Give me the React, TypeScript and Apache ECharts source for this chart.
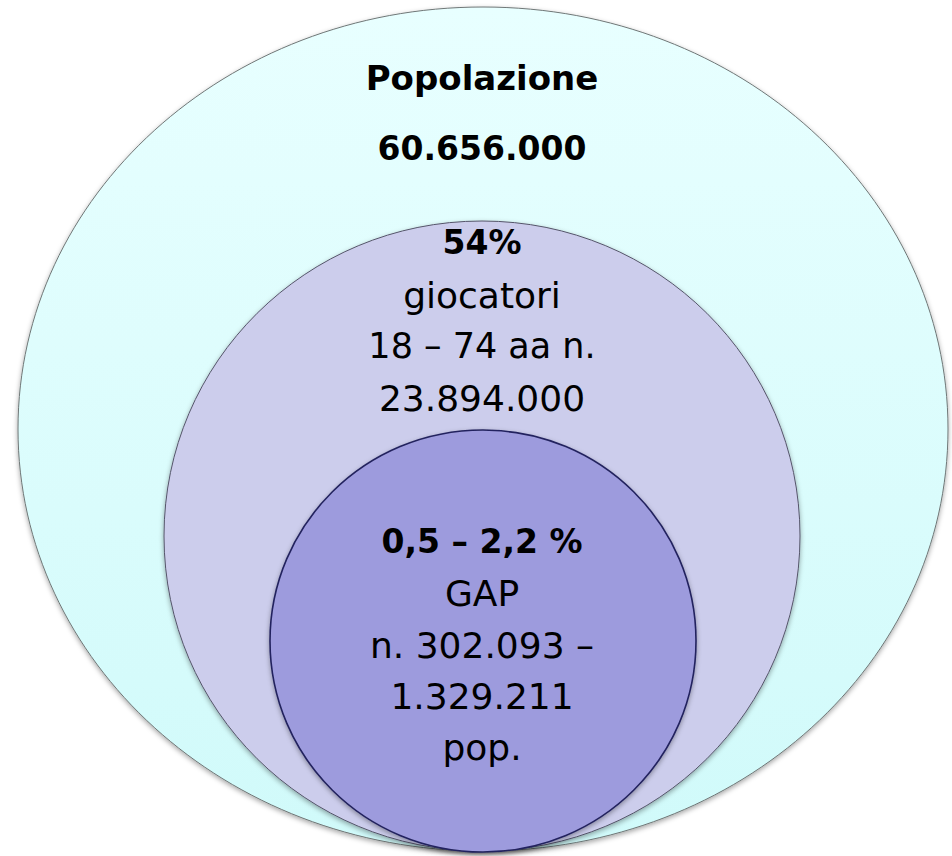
import React, { useEffect, useRef } from "react";
import * as echarts from "echarts";

// ---- data ----
const groupNames = ["Popolazione", "giocatori", "GAP"];
const popolazione = 60656000;
const giocatoriPct = "54%";
const giocatoriEta = "18 – 74 aa n.";
const giocatori = 23894000;
const gapPct = "0,5 – 2,2 %";
const gapMin = 302093;
const gapMax = 1329211;

const fmt = (n: number) => String(n).replace(/\B(?=(\d{3})+(?!\d))/g, ".");

// ---- layout (pixel-like axis units) ----
const W = 952;
const H = 856;
const ellipses = [
  { cx: 483, cy: 429, rx: 465, ry: 422 },
  { cx: 482, cy: 536, rx: 318, ry: 315 },
  { cx: 483, cy: 641, rx: 213, ry: 211 },
];
const fills: any[] = [
  new echarts.graphic.LinearGradient(0, 0, 0, 1, [
    { offset: 0, color: "#e8ffff" },
    { offset: 1, color: "#d0fafa" },
  ]),
  "#cccdec",
  "#9d9bdd",
];
const strokes = ["#6f7777", "#55556a", "#23235e"];
const lineWidths = [1, 1, 1.6];

const textLines: { text: string; bold: boolean; size: number; y: number }[][] = [
  [
    { text: groupNames[0], bold: true, size: 34, y: 78 },
    { text: fmt(popolazione), bold: true, size: 33, y: 148 },
  ],
  [
    { text: giocatoriPct, bold: true, size: 33, y: 242 },
    { text: groupNames[1], bold: false, size: 36, y: 295 },
    { text: giocatoriEta, bold: false, size: 35, y: 346 },
    { text: fmt(giocatori), bold: false, size: 36, y: 398 },
  ],
  [
    { text: gapPct, bold: true, size: 33, y: 541 },
    { text: groupNames[2], bold: false, size: 36, y: 593 },
    { text: "n. " + fmt(gapMin) + " –", bold: false, size: 36, y: 645 },
    { text: fmt(gapMax), bold: false, size: 36, y: 696 },
    { text: "pop.", bold: false, size: 36, y: 747 },
  ],
];
const textX = 482;

export default function App() {
  const ref = useRef<HTMLDivElement>(null);
  useEffect(() => {
    document.body.style.margin = "0";
    const chart = echarts.init(ref.current!, undefined, { renderer: "svg" });
    chart.setOption({
      animation: false,
      grid: { left: 0, right: 0, top: 0, bottom: 0 },
      xAxis: { type: "value", min: 0, max: W, show: false },
      yAxis: { type: "value", min: 0, max: H, inverse: true, show: false },
      series: [
        {
          type: "custom",
          data: groupNames.map((_, i) => [i]),
          renderItem: (params: any, api: any) => {
            const i = api.value(0);
            const e = ellipses[i];
            const c = api.coord([e.cx, e.cy]);
            const edge = api.coord([e.cx + e.rx, e.cy + e.ry]);
            const children: any[] = [
              {
                type: "ellipse",
                shape: { cx: c[0], cy: c[1], rx: edge[0] - c[0], ry: edge[1] - c[1] },
                style: {
                  fill: fills[i],
                  stroke: strokes[i],
                  lineWidth: lineWidths[i],
                  shadowBlur: 5,
                  shadowColor: "rgba(0,0,0,0.35)",
                  shadowOffsetY: 2,
                },
              },
            ];
            textLines[i].forEach((l) => {
              const p = api.coord([textX, l.y]);
              children.push({
                type: "text",
                style: {
                  text: l.text,
                  x: p[0],
                  y: p[1],
                  textAlign: "center",
                  textVerticalAlign: "middle",
                  verticalAlign: "middle",
                  fill: "#000",
                  font: `${l.bold ? "bold " : ""}${l.size}px "DejaVu Sans"`,
                },
              });
            });
            return { type: "group", children };
          },
        },
      ],
    });
    return () => chart.dispose();
  }, []);
  return <div ref={ref} style={{ width: W, height: H }} />;
}
